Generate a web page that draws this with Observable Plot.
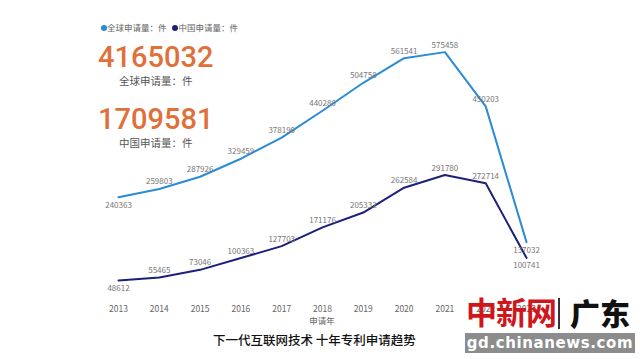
<!DOCTYPE html>
<html><head><meta charset="utf-8">
<script src="https://cdn.jsdelivr.net/npm/d3@7"></script>
<script src="https://cdn.jsdelivr.net/npm/@observablehq/plot@0.6"></script>
<style>
html,body{margin:0;padding:0;background:#fff;}
#wrap{position:relative;width:640px;height:359px;overflow:hidden;font-family:"Noto Sans CJK SC","Noto Sans",sans-serif;}
#chart{position:absolute;left:0;top:0;}
.abs{position:absolute;white-space:nowrap;}
</style></head><body>
<div id="wrap">
  <div id="chart"></div>
  <div class="abs" style="left:101px;top:21px;font-size:8.5px;color:#666;line-height:12px;">
    <span style="display:inline-block;width:6px;height:6px;border-radius:50%;background:#2a8bd6;vertical-align:0px;"></span>全球申请量：件
    <span style="display:inline-block;width:6px;height:6px;border-radius:50%;background:#1c2078;vertical-align:0px;margin-left:4px;"></span>中国申请量：件
  </div>
  <div class="abs" id="bigGlobal" style="left:98px;top:39px;font-family:Roboto,sans-serif;font-size:29px;color:#e0703a;line-height:36px;font-weight:500;"></div>
  <div class="abs" style="left:119px;top:74px;font-size:10.5px;color:#555;line-height:14px;">全球申请量：件</div>
  <div class="abs" id="bigChina" style="left:98px;top:101px;font-family:Roboto,sans-serif;font-size:29px;color:#e0703a;line-height:36px;font-weight:500;"></div>
  <div class="abs" style="left:119px;top:136px;font-size:10.5px;color:#555;line-height:14px;">中国申请量：件</div>
  <div class="abs" style="left:0;width:644px;text-align:center;top:314px;font-size:8.5px;color:#666;line-height:12px;">申请年</div>
  <div class="abs" style="left:213px;top:332px;font-size:12.5px;color:#111;line-height:16px;font-weight:500;">下一代互联网技术 十年专利申请趋势</div>
  <div class="abs" style="left:466px;top:293px;font-size:31px;color:#d0161b;line-height:36px;font-weight:700;font-family:'Noto Sans CJK SC';letter-spacing:-1px;">中新网</div>
  <div class="abs" style="left:558px;top:298px;width:1.5px;height:31px;background:#333;"></div>
  <div class="abs" style="left:570px;top:294px;font-size:30px;color:#111;line-height:36px;font-weight:900;font-family:'Noto Sans CJK SC';">广东</div>
  <div class="abs" style="left:465px;top:333px;width:170px;height:20px;background:#8c8c8c;color:#fff;font-family:'DejaVu Sans',sans-serif;font-size:15px;line-height:20px;text-align:center;letter-spacing:0.6px;font-weight:600;">gd.chinanews.com</div>
</div>
<script>
const years = [2013, 2014, 2015, 2016, 2017, 2018, 2019, 2020, 2021, 2022, 2023];
const globalApps = [240363, 259803, 287926, 329459, 378190, 440280, 504758, 561541, 575458, 450203, 137032];
const chinaApps = [48612, 55465, 73046, 100363, 127703, 171176, 205332, 262584, 291780, 272714, 100741];
const globalTotal = 4165032;
const chinaTotal = 1709581;
const seriesNames = ["全球申请量：件", "中国申请量：件"];
const seriesColors = ["#2a8bd6", "#1c2078"];

document.getElementById("bigGlobal").textContent = String(globalTotal);
document.getElementById("bigChina").textContent = String(chinaTotal);

const rows = [];
years.forEach((y, i) => {
  rows.push({year: y, value: globalApps[i], series: seriesNames[0], idx: i});
  rows.push({year: y, value: chinaApps[i], series: seriesNames[1], idx: i});
});
const last = years.length - 1;
const inner = rows.filter(d => d.idx !== 0 && d.idx !== last);
const ends = rows.filter(d => d.idx === 0 || d.idx === last);

const chart = Plot.plot({
  width: 640,
  height: 330,
  marginLeft: 118,
  marginRight: 114,
  marginTop: 41,
  marginBottom: 29,
  style: {fontFamily: "'Noto Sans CJK SC','Noto Sans',sans-serif", background: "transparent"},
  x: {domain: [2013, 2023], ticks: years, tickFormat: d => String(d), tickSize: 0, tickPadding: 4, label: null},
  y: {domain: [0, 600000], axis: null},
  color: {domain: seriesNames, range: seriesColors},
  marks: [
    Plot.axisX({ticks: years, tickFormat: d => String(d), tickSize: 0, tickPadding: 4, fontSize: 8.5, fill: "#666", label: null}),
    Plot.line(rows, {x: "year", y: "value", z: "series", stroke: "series", strokeWidth: 2}),
    Plot.text(inner, {x: "year", y: "value", text: d => String(d.value), dy: -7, fontSize: 8, fill: "#777"}),
    Plot.text(ends, {x: "year", y: "value", text: d => String(d.value), dy: 8, fontSize: 8, fill: "#777"})
  ]
});
document.getElementById("chart").appendChild(chart);
</script>
</body></html>
